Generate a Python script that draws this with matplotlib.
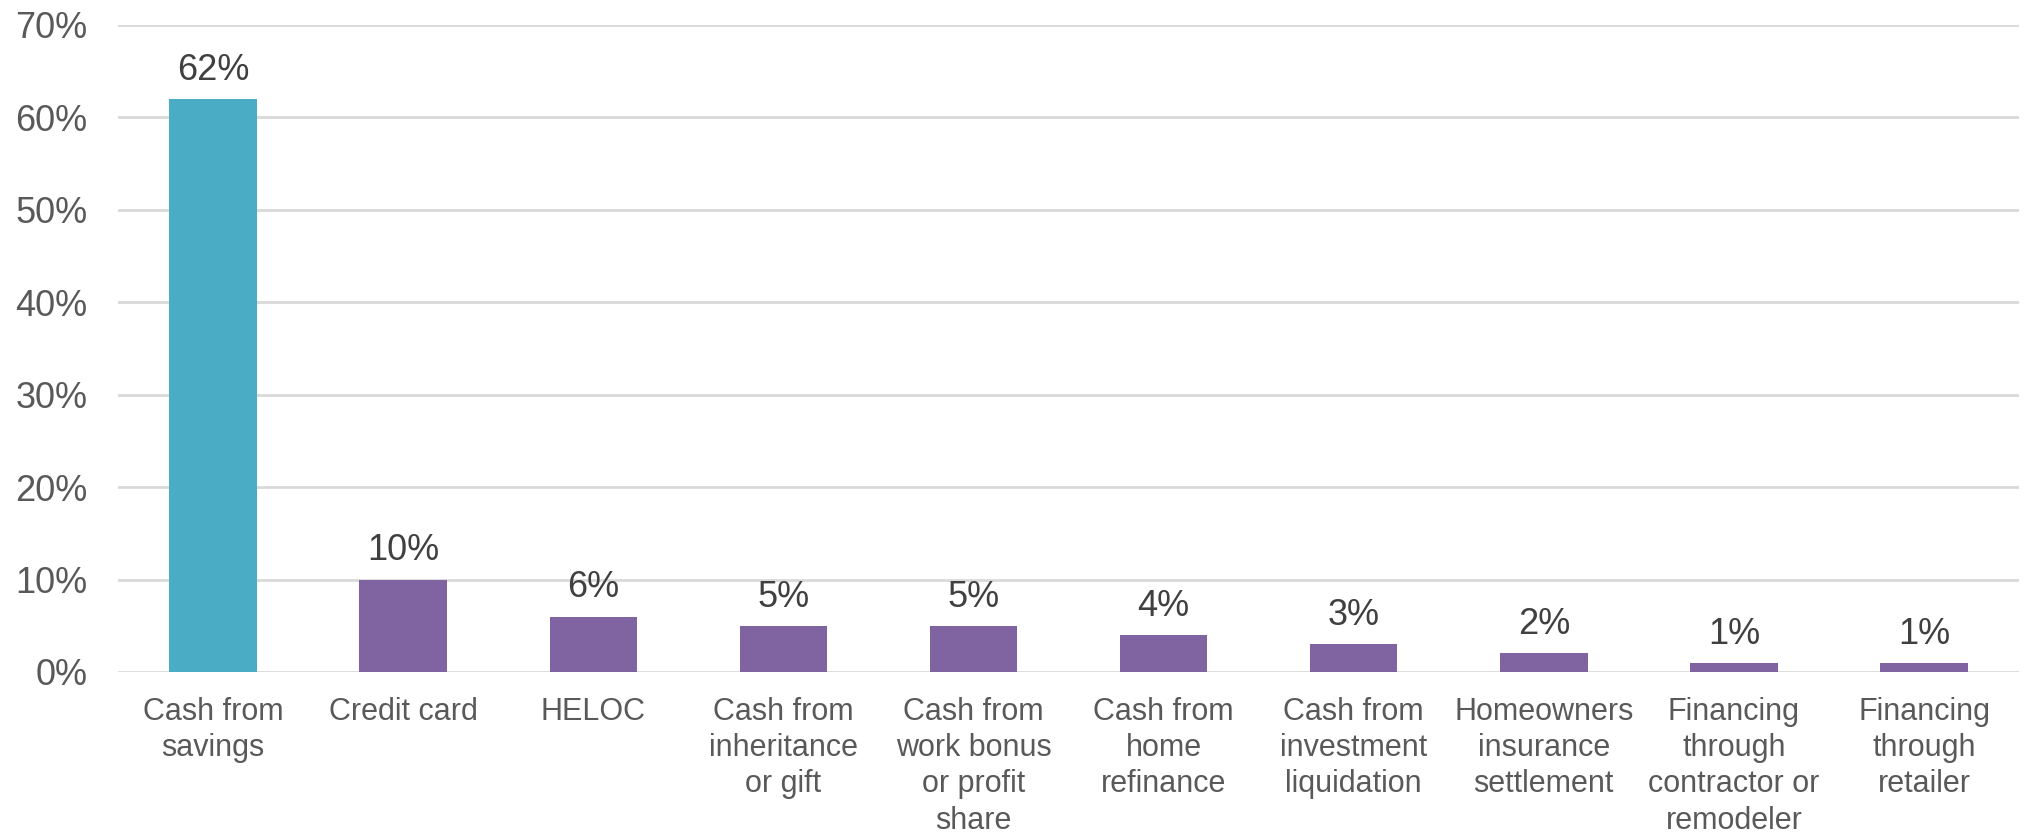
import numpy as np
import matplotlib.pyplot as plt

plt.rcParams['font.family'] = ['Liberation Sans', 'DejaVu Sans']

# Sources de financement des travaux
categories = [
    'Cash from\nsavings',
    'Credit card',
    'HELOC',
    'Cash from\ninheritance\nor gift',
    'Cash from\nwork bonus\nor profit\nshare',
    'Cash from\nhome\nrefinance',
    'Cash from\ninvestment\nliquidation',
    'Homeowners\ninsurance\nsettlement',
    'Financing\nthrough\ncontractor or\nremodeler',
    'Financing\nthrough\nretailer',
]
shares = [62, 10, 6, 5, 5, 4, 3, 2, 1, 1]
yticks = [0, 10, 20, 30, 40, 50, 60, 70]

teal = '#4BACC6'
purple = '#8064A2'
colors = [teal] + [purple] * (len(shares) - 1)

fig = plt.figure(figsize=(20.28, 8.33), dpi=100)
ax = fig.add_axes([0.0582, 0.1933, 0.9374, 0.777])

x = np.arange(len(categories))
bars = ax.bar(x, shares, width=0.46, color=colors, zorder=3)

for b, v in zip(bars, shares):
    ax.annotate(str(v) + '%', (b.get_x() + b.get_width() / 2, b.get_height()),
                xytext=(0, 8), textcoords='offset points',
                ha='center', va='bottom', fontsize=26, color='#404040')

ax.set_xlim(-0.5, len(categories) - 0.5)
ax.set_ylim(0, 70)
ax.set_yticks(yticks)
ax.set_yticklabels([str(t) + '%' for t in yticks])
ax.set_xticks(x)
ax.set_xticklabels(categories, linespacing=1.27)

ax.tick_params(axis='y', length=0, pad=22, labelsize=26, labelcolor='#595959')
ax.tick_params(axis='x', length=0, pad=18, labelsize=22, labelcolor='#595959')

ax.grid(axis='y', color='#D9D9D9', linewidth=2, zorder=0)
for s in ax.spines.values():
    s.set_visible(False)

fig.savefig('out.png', dpi=100)
